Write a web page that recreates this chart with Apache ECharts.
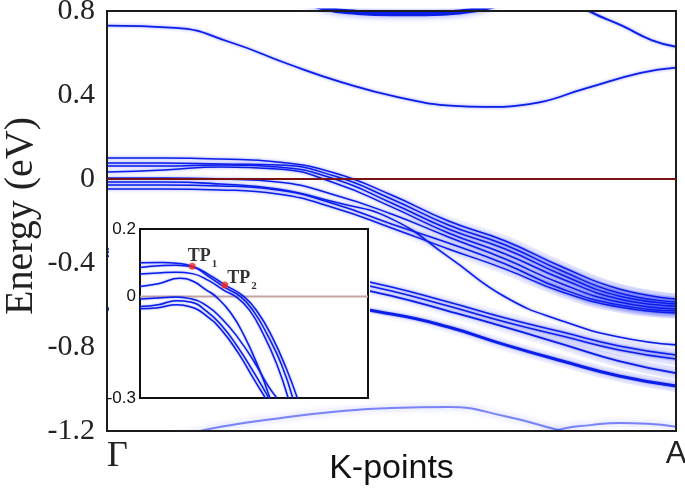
<!DOCTYPE html>
<html>
<head>
<meta charset="utf-8">
<script src="https://cdn.jsdelivr.net/npm/echarts@6/dist/echarts.min.js"></script>
<style>
html,body{margin:0;padding:0;background:#fff;}
#chart{width:685px;height:493px;}
</style>
</head>
<body>
<div id="chart"></div>
<script>
// ---------- main panel data ----------
const kMain = [0, 0.1, 0.2, 0.3, 0.4, 0.5, 0.6, 0.7, 0.8, 0.9, 1.0];
const vbA1 = [0.100, 0.100, 0.095, 0.081, 0.029, -0.076, -0.200, -0.295, -0.419, -0.524, -0.571];
const vbA2 = [0.076, 0.076, 0.071, 0.067, 0.014, -0.095, -0.219, -0.314, -0.438, -0.543, -0.586];
const vbA3 = [0.062, 0.062, 0.067, 0.057, 0.000, -0.114, -0.238, -0.333, -0.457, -0.557, -0.595];
const vbA4 = [0.033, 0.043, 0.057, 0.048, -0.019, -0.133, -0.257, -0.357, -0.476, -0.571, -0.605];
const vbB0 = [0.005, 0.005, 0.000, -0.014, -0.076, -0.167, -0.276, -0.381, -0.500, -0.586, -0.619];
const vbB1 = [-0.014, -0.014, -0.024, -0.048, -0.110, -0.190, -0.371, -0.562, -0.676, -0.752, -0.790];
const vbB2 = [-0.029, -0.029, -0.033, -0.052, -0.119, -0.214, -0.305, -0.405, -0.524, -0.600, -0.629];
const vbB3 = [-0.048, -0.048, -0.052, -0.071, -0.138, -0.233, -0.333, -0.429, -0.538, -0.610, -0.638];
const lbC1 = [-0.333, -0.343, -0.371, -0.410, -0.457, -0.514, -0.586, -0.662, -0.729, -0.795, -0.838];
const lbC2 = [-0.348, -0.357, -0.386, -0.429, -0.476, -0.533, -0.605, -0.681, -0.748, -0.814, -0.857];
const lbC3 = [-0.367, -0.376, -0.405, -0.452, -0.500, -0.557, -0.629, -0.705, -0.786, -0.867, -0.924];
const lbD  = [-0.619, -0.619, -0.619, -0.619, -0.614, -0.643, -0.705, -0.790, -0.867, -0.938, -0.986];
const bot1 = [-1.30, -1.24, -1.18, -1.14, -1.108, -1.09, -1.086, -1.13, -1.20, -1.26, -1.30];

const kCB1 = [0, 0.12, 0.218, 0.316, 0.413, 0.511, 0.61, 0.663, 0.742, 0.84, 0.938, 1.0];
const eCB1 = [0.73, 0.72, 0.65, 0.55, 0.46, 0.39, 0.348, 0.343, 0.357, 0.43, 0.505, 0.53];
const kTop = [0.33, 0.38, 0.44, 0.5, 0.56, 0.62, 0.68];
const eTop = [0.87, 0.815, 0.793, 0.787, 0.787, 0.795, 0.825];
const kCR  = [0.8, 0.847, 0.905, 0.958, 1.0];
const eCR  = [0.88, 0.80, 0.73, 0.66, 0.63];
const kBot2 = [0.72, 0.8, 0.85, 0.9, 0.95, 1.0];
const eBot2 = [-1.26, -1.19, -1.172, -1.162, -1.165, -1.18];

const kLabels = ['Γ', 'A'];
const yTicksMain = [-1.2, -0.8, -0.4, 0, 0.4, 0.8];

// ---------- inset data ----------
const inK1 = [0, 0.1, 0.16, 0.229, 0.3, 0.372, 0.456, 0.52, 0.58, 0.64, 0.69];
const inE1 = [0.100, 0.101, 0.099, 0.090, 0.066, 0.035, 0.0, -0.05, -0.12, -0.21, -0.30];
const inK2 = [0, 0.1, 0.16, 0.229, 0.3, 0.372, 0.441, 0.5, 0.56, 0.62, 0.67];
const inE2 = [0.086, 0.092, 0.093, 0.088, 0.060, 0.027, 0.0, -0.045, -0.115, -0.20, -0.30];
const inK3 = [0, 0.08, 0.16, 0.229, 0.3, 0.372, 0.42, 0.48, 0.54, 0.6, 0.65];
const inE3 = [0.067, 0.070, 0.072, 0.068, 0.048, 0.017, 0.0, -0.04, -0.11, -0.20, -0.30];
const inK4 = [0, 0.08, 0.175, 0.23, 0.29, 0.333, 0.4, 0.46, 0.52, 0.57];
const inE4 = [0.030, 0.038, 0.054, 0.046, 0.020, 0.0, -0.05, -0.12, -0.21, -0.30];
const inK5 = [0, 0.08, 0.16, 0.22, 0.29, 0.36, 0.43, 0.5, 0.56, 0.6];
const inE5 = [-0.007, -0.004, -0.001, -0.006, -0.026, -0.066, -0.122, -0.192, -0.262, -0.30];
const inK6 = [0, 0.08, 0.16, 0.22, 0.29, 0.36, 0.43, 0.5, 0.565];
const inE6 = [-0.029, -0.024, -0.012, -0.016, -0.042, -0.087, -0.150, -0.225, -0.30];
const inK7 = [0, 0.08, 0.16, 0.22, 0.29, 0.36, 0.43, 0.5, 0.55];
const inE7 = [-0.036, -0.033, -0.024, -0.030, -0.056, -0.101, -0.166, -0.245, -0.30];
const tpK = [0.229, 0.372];
const tpE = [0.0897, 0.0345];
const tpSub = ['1', '2'];
const yTicksInset = [0.2, 0, -0.3];

// ---------- build ----------
const BLUE = '#0a1ee8';
const pairs = (ks, es) => ks.map((k, i) => [k, es[i]]);
function band(ks, es, opt) {
  opt = opt || {};
  return {
    type: 'line', xAxisIndex: opt.inset ? 1 : 0, yAxisIndex: opt.inset ? 1 : 0,
    data: pairs(ks, es), smooth: 0.5, showSymbol: false, symbol: 'none',
    silent: true, z: opt.inset ? 12 : 2,
    lineStyle: {
      color: opt.color || BLUE, width: opt.width || 1.5,
      shadowBlur: opt.blur == null ? 3 : opt.blur, shadowColor: opt.shadow || 'rgba(30,40,255,0.55)'
    }
  };
}
function halo(ks, es, start, alpha, width) {
  return {
    type: 'line', xAxisIndex: 0, yAxisIndex: 0, data: pairs(ks, es), smooth: 0.5,
    symbol: 'none', silent: true, z: 1,
    lineStyle: {
      width: width, color: {
        type: 'linear', x: 0, y: 0, x2: 1, y2: 0,
        colorStops: [
          { offset: 0, color: 'rgba(40,50,255,0)' },
          { offset: start, color: 'rgba(40,50,255,0)' },
          { offset: 1, color: 'rgba(40,50,255,' + alpha + ')' }
        ]
      }
    }
  };
}

const series = [];
const bundle = [vbA1, vbA2, vbA3, vbA4, vbB0, vbB2, vbB3];
bundle.forEach(b => series.push(halo(kMain, b, 0.45, 0.22, 11)));
[lbC1, lbC2, lbC3, lbD].forEach(b => series.push(halo(kMain, b, 0.4, 0.14, 12)));
bundle.forEach(b => series.push(band(kMain, b)));
series.push(band(kMain, vbB1, { width: 1.6 }));
series.push(band(kMain, lbC1));
series.push(band(kMain, lbC2));
series.push(band(kMain, lbC3, { width: 1.8 }));
series.push(band(kMain, lbD, { width: 3 }));
series.push(band(kCB1, eCB1, { width: 1.8 }));
series.push(band(kTop, eTop, { width: 5, blur: 6 }));
series.push(band(kCR, eCR, { width: 2 }));
series.push(band(kMain, bot1, { width: 2, color: 'rgba(40,60,240,0.6)', blur: 6 }));
series.push(band(kBot2, eBot2, { width: 2, color: 'rgba(40,60,240,0.6)', blur: 6 }));
// Fermi level
series.push({ type: 'line', xAxisIndex: 0, yAxisIndex: 0, data: [[0, 0], [1, 0]], symbol: 'none', silent: true, z: 4,
  lineStyle: { color: '#7a1414', width: 2 } });

// inset
[[inK1, inE1], [inK2, inE2], [inK3, inE3], [inK4, inE4], [inK5, inE5], [inK6, inE6], [inK7, inE7]]
  .forEach(p => series.push(band(p[0], p[1], { inset: true, width: 1.5, blur: 2 })));
series.push({ type: 'line', xAxisIndex: 1, yAxisIndex: 1, data: [[0, 0], [1, 0]], symbol: 'none', silent: true, z: 11,
  lineStyle: { color: '#c4a3a3', width: 2 } });
series.push({
  type: 'scatter', xAxisIndex: 1, yAxisIndex: 1, z: 14, silent: true,
  data: tpK.map((k, i) => ({
    value: [k, tpE[i]],
    label: { show: true, position: i === 0 ? [-1, -17] : [6, -14], formatter: '{a|TP}{b|' + tpSub[i] + '}' }
  })),
  symbolSize: 7, itemStyle: { color: '#f22a1e' },
  label: {
    rich: {
      a: { fontFamily: 'Liberation Serif', fontWeight: 'bold', fontSize: 18, color: '#000', lineHeight: 20, verticalAlign: 'bottom' },
      b: { fontFamily: 'Liberation Serif', fontWeight: 'bold', fontSize: 11, color: '#000', lineHeight: 20, verticalAlign: 'bottom', padding: [0, 0, -4, 1] }
    }
  }
});

const near = (v, t) => Math.abs(v - t) < 1e-6;
const option = {
  animation: false,
  backgroundColor: '#fff',
  grid: [
    { left: 107, top: 11, right: 9, bottom: 62, show: true, borderColor: '#1c1c1c', borderWidth: 2, z: 3, containLabel: false, outerBoundsMode: 'none' },
    { left: 140, top: 229, width: 228, height: 169, show: true, borderColor: '#111', borderWidth: 2, backgroundColor: '#fff', z: 8, containLabel: false, outerBoundsMode: 'none' }
  ],
  graphic: [{ type: 'rect', z: 6, silent: true, shape: { x: 109, y: 221, width: 261, height: 184 }, style: { fill: '#fff' } }],
  xAxis: [
    {
      type: 'value', gridIndex: 0, min: 0, max: 1, interval: 1,
      name: 'K-points', nameLocation: 'middle', nameGap: 21, nameMoveOverlap: false,
      nameTextStyle: { fontFamily: 'Liberation Sans', fontSize: 34, color: '#111', verticalAlign: 'top' },
      axisLine: { show: false }, axisTick: { show: false }, splitLine: { show: false },
      axisLabel: {
        margin: 8, alignMinLabel: 'left', alignMaxLabel: 'center',
        formatter: v => (near(v, 0) ? '{g|' + kLabels[0] + '}' : '{a|' + kLabels[1] + '}'),
        rich: {
          g: { fontFamily: 'Liberation Serif', fontSize: 36, color: '#222' },
          a: { fontFamily: 'Liberation Sans', fontSize: 31, color: '#222' }
        }
      }
    },
    {
      type: 'value', gridIndex: 1, min: 0, max: 1, z: 9,
      axisLine: { show: false }, axisTick: { show: false }, splitLine: { show: false }, axisLabel: { show: false }
    }
  ],
  yAxis: [
    {
      type: 'value', gridIndex: 0, min: yTicksMain[0], max: yTicksMain[yTicksMain.length - 1], interval: 0.4,
      name: 'Energy (eV)', nameLocation: 'middle', nameGap: 66, nameMoveOverlap: false,
      nameTextStyle: { fontFamily: 'Liberation Serif', fontSize: 40, color: '#222', padding: [0, 0, 0, 10] },
      axisLine: { show: false }, axisTick: { show: false }, splitLine: { show: false },
      axisLabel: {
        margin: 12, fontFamily: 'Liberation Serif', fontSize: 30, color: '#222',
        formatter: v => { const t = yTicksMain.find(x => near(v, x)); return t === undefined ? '' : String(t); }
      }
    },
    {
      type: 'value', gridIndex: 1, min: -0.3, max: 0.2, interval: 0.1, z: 9,
      axisLine: { show: false }, axisTick: { show: false }, splitLine: { show: false },
      axisLabel: {
        margin: 4, fontFamily: 'Liberation Sans', fontSize: 17, color: '#111',
        formatter: v => { const t = yTicksInset.find(x => near(v, x)); return t === undefined ? '' : String(t); }
      }
    }
  ],
  series: series
};
const chart = echarts.init(document.getElementById('chart'));
chart.setOption(option);
</script>
</body>
</html>
